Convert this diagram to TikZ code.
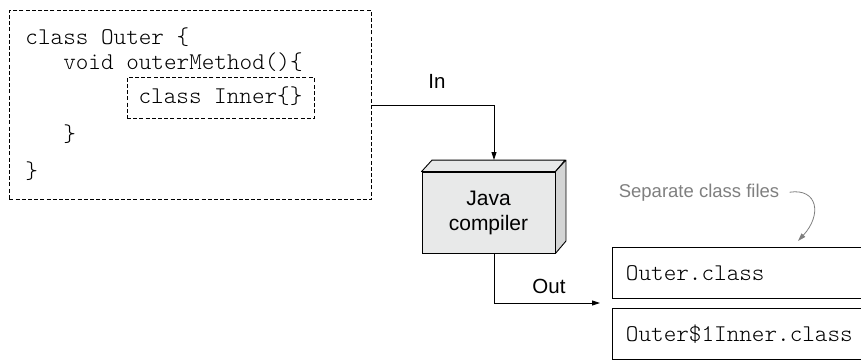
\documentclass[tikz,border=0pt]{standalone}
\usepackage{fontspec}
\setmainfont{Liberation Sans}
\setmonofont{Latin Modern Mono Light}
\usetikzlibrary{arrows.meta}
\definecolor{facegray}{HTML}{E8E9E9}
\definecolor{sidegray}{HTML}{D4D5D5}
\definecolor{notegray}{HTML}{7F7F7F}
\begin{document}
\begin{tikzpicture}[x=1pt,y=-1pt,line width=0.9pt,
  code/.style={font=\fontsize{24}{28}\ttfamily, inner sep=0pt, anchor=base west},
  lab/.style={font=\fontsize{20.5}{25}\selectfont, inner sep=0pt, anchor=base},
  dashbox/.style={draw, dash pattern=on 4pt off 2.2pt},
  tip/.style={-{Triangle[length=8pt,width=5pt]}},
  filebox/.style={draw, anchor=north west, minimum width=258pt, minimum height=51pt,
    inner xsep=13.5pt, inner ysep=0pt, text width=231pt, align=left,
    text height=16pt, text depth=1pt, font=\fontsize{24}{28}\ttfamily}
  ]
\useasboundingbox (0,0) rectangle (861,361);
% source code box
\node[dashbox, minimum width=362pt, minimum height=189pt, inner sep=0pt, anchor=north west] (outer) at (9,10) {};
\node[code] (l1) at (25,45) {class Outer \{};
\node[code] (l2) at (62.8,69) {void outerMethod()\{};
\node[dashbox, minimum width=187pt, minimum height=41pt, inner sep=0pt,
      text height=15pt, text depth=4pt, font=\fontsize{24}{28}\ttfamily] (inner) at (220.5,98) {class Inner\{\}};
\node[code] (l4) at (62.8,141) {\}};
\node[code] (l5) at (25,178) {\}};
% compiler
\node[draw, fill=facegray, minimum width=133pt, minimum height=81pt, inner sep=0pt,
      align=center, font=\fontsize{21}{25}\selectfont] (comp) at (488.5,212.5) {Java\\compiler};
\draw[fill=facegray, line join=round] (comp.north west) -- ++(10.5,-11.5) -- ++(133,0) -- (comp.north east) -- cycle;
\draw[fill=sidegray, line join=round] (comp.north east) -- ++(10.5,-11.5) -- ++(0,81) -- (comp.south east) -- cycle;
\coordinate (cin) at (494,160);
\coordinate (cout) at (494,253);
% output files
\node[filebox] (f1) at (612,247) {Outer.class};
\node[filebox] (f2) at (612,308) {Outer\$1Inner.class};
\coordinate (fin) at (600,303);
% connectors
\draw[tip] (outer.east) -| (cin);
\node[lab] (inlab) at (437,88) {In};
\draw[tip] (cout) |- (fin);
\node[lab] (outlab) at (549,293) {Out};
% note
\node[font=\fontsize{18.5}{22}\selectfont, text=notegray, inner sep=0pt, anchor=base] (sep) at (699,197) {Separate class files};
\coordinate (septip) at (798,241);
\draw[notegray, line width=0.8pt, tip] ([xshift=10pt]sep.east) .. controls (818,188) and (822,215) .. (septip);
\end{tikzpicture}
\end{document}
